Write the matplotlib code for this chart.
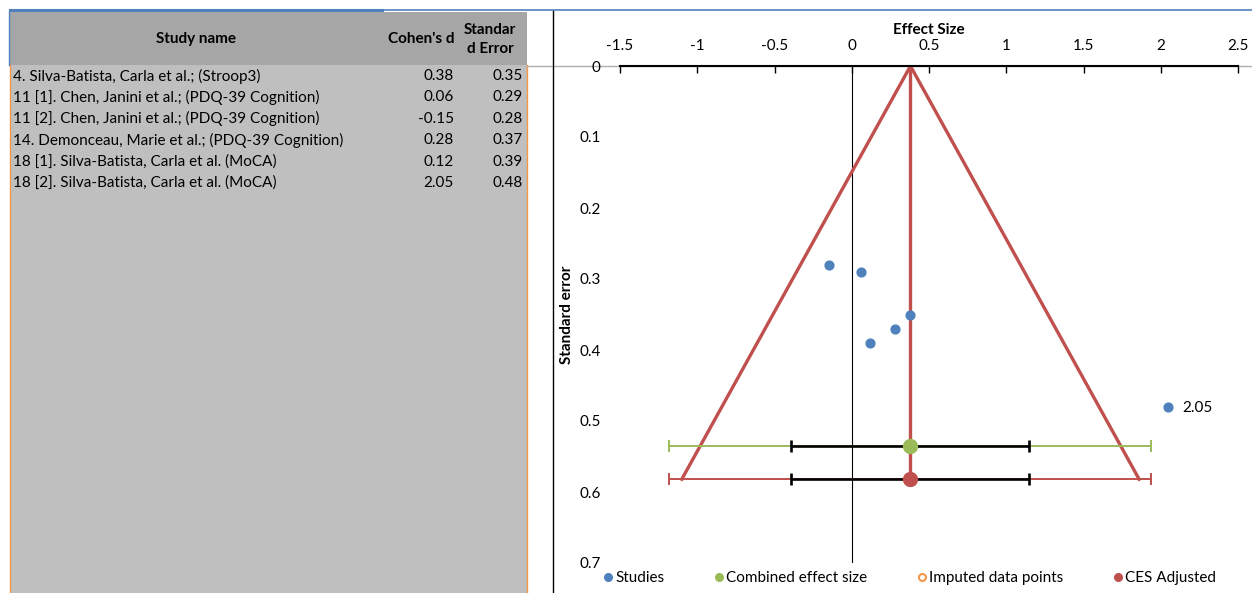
import matplotlib
matplotlib.use("Agg")
import matplotlib.pyplot as plt
from matplotlib.patches import Rectangle
from matplotlib.lines import Line2D

plt.rcParams["font.family"] = ["Lato", "DejaVu Sans"]

# study table
study_names = [
    "4. Silva-Batista, Carla et al.; (Stroop3)",
    "11 [1]. Chen, Janini et al.; (PDQ-39 Cognition)",
    "11 [2]. Chen, Janini et al.; (PDQ-39 Cognition)",
    "14. Demonceau, Marie et al.; (PDQ-39 Cognition)",
    "18 [1]. Silva-Batista, Carla et al. (MoCA)",
    "18 [2]. Silva-Batista, Carla et al. (MoCA)",
]
cohens_d = [0.38, 0.06, -0.15, 0.28, 0.12, 2.05]
std_err = [0.35, 0.29, 0.28, 0.37, 0.39, 0.48]

# combined effect / funnel
ces = 0.38
ces_y = 0.535
ces_adj_y = 0.582
ci_low, ci_high = -0.39, 1.15
pi_low, pi_high = -1.18, 1.94
funnel_low, funnel_high = -1.10, 1.86

x_ticks = [-1.5, -1, -0.5, 0, 0.5, 1, 1.5, 2, 2.5]
y_ticks = [0, 0.1, 0.2, 0.3, 0.4, 0.5, 0.6, 0.7]

BLUE = "#4f81bd"
GREEN = "#9bbb59"
RED = "#c0504d"
ORANGE = "#f79646"
FS = 11

W, H = 1252, 593
fig = plt.figure(figsize=(W / 100, H / 100), dpi=100)

# background layer in pixel coords (spreadsheet table)
bg = fig.add_axes([0, 0, 1, 1])
bg.set_xlim(0, W); bg.set_ylim(H, 0); bg.axis("off")
bg.add_patch(Rectangle((10, 12), 517, 53, color="#a6a6a6", lw=0))
bg.add_patch(Rectangle((10, 65), 517, H - 65, color="#bfbfbf", lw=0))
bg.plot([10, 10], [65, H], color=ORANGE, lw=1)
bg.plot([527, 527], [65, H], color=ORANGE, lw=1)
bg.plot([9, 9], [12, 65], color=BLUE, lw=1)
bg.plot([10, 382], [10, 10], color=BLUE, lw=2.2)
bg.plot([382, W], [10, 10], color=BLUE, lw=1.4, alpha=0.85)
bg.plot([527, W], [65.5, 65.5], color="#b0b0b0", lw=1)
bg.plot([553, 553], [11, H], color="black", lw=1)

bg.text(196, 39, "Study name", ha="center", va="center", fontsize=FS, fontweight="bold")
bg.text(454, 39, "Cohen's d", ha="right", va="center", fontsize=FS, fontweight="bold")
bg.text(490, 30, "Standar", ha="center", va="center", fontsize=FS, fontweight="bold")
bg.text(490, 49, "d Error", ha="center", va="center", fontsize=FS, fontweight="bold")
for i, (name, d, se) in enumerate(zip(study_names, cohens_d, std_err)):
    y = 76 + i * 21.4
    bg.text(13, y, name, ha="left", va="center", fontsize=FS)
    bg.text(454, y, f"{d:.2f}", ha="right", va="center", fontsize=FS)
    bg.text(523, y, f"{se:.2f}", ha="right", va="center", fontsize=FS)

# funnel plot
ax = fig.add_axes([620 / W, 1 - 563 / H, 618 / W, 497 / H])
ax.patch.set_alpha(0)
ax.set_xlim(-1.5, 2.5)
ax.set_ylim(0.7, 0)
for s in ["left", "right", "bottom"]:
    ax.spines[s].set_visible(False)
ax.spines["top"].set_linewidth(1.5)
ax.xaxis.tick_top()
ax.xaxis.set_label_position("top")
ax.set_xticks(x_ticks)
ax.set_xticklabels([f"{v:g}" for v in x_ticks])
ax.tick_params(axis="x", direction="in", length=5, width=1, labelsize=FS, pad=9)
ax.set_yticks(y_ticks)
ax.set_yticklabels([f"{v:g}" for v in y_ticks])
ax.tick_params(axis="y", length=0, labelsize=FS, pad=14)
ax.set_xlabel("Effect Size", fontsize=FS, fontweight="bold", labelpad=4)
ax.set_ylabel("Standard error", fontsize=FS, fontweight="bold")
ax.yaxis.set_label_coords(-0.074, 0.5)

ax.plot([0, 0], [0, 0.7], color="black", lw=0.8)
ax.plot([funnel_low, ces, funnel_high], [ces_adj_y, 0, ces_adj_y], color=RED, lw=2.4)
ax.plot([ces, ces], [0, ces_adj_y], color=RED, lw=2.4)

ax.errorbar([ces], [ces_y], xerr=[[ces - pi_low], [pi_high - ces]], fmt="none",
            ecolor=GREEN, elinewidth=1.4, capsize=4, capthick=1.4)
ax.errorbar([ces], [ces_adj_y], xerr=[[ces - pi_low], [pi_high - ces]], fmt="none",
            ecolor=RED, elinewidth=1.4, capsize=4, capthick=1.4)
for yy in (ces_y, ces_adj_y):
    ax.errorbar([ces], [yy], xerr=[[ces - ci_low], [ci_high - ces]], fmt="none",
                ecolor="black", elinewidth=1.9, capsize=4, capthick=1.9)

ax.scatter(cohens_d, std_err, s=40, color=BLUE, zorder=5)
ax.scatter([ces], [ces_y], s=100, color=GREEN, zorder=5)
ax.scatter([ces], [ces_adj_y], s=100, color=RED, zorder=5)
ax.annotate(f"{cohens_d[-1]:.2f}", (cohens_d[-1], std_err[-1]), xytext=(10, -1),
            textcoords="offset points", va="center", fontsize=FS)

handles = [
    Line2D([], [], ls="none", marker="o", ms=5.5, color=BLUE, label="Studies"),
    Line2D([], [], ls="none", marker="o", ms=5.5, color=GREEN, label="Combined effect size"),
    Line2D([], [], ls="none", marker="o", ms=5, mfc="none", mec=ORANGE, mew=1.5,
           label="Imputed data points"),
    Line2D([], [], ls="none", marker="o", ms=5.5, color=RED, label="CES Adjusted"),
]
fig.legend(handles=handles, loc="center", bbox_to_anchor=(910 / W, 1 - 578 / H), ncol=4,
           frameon=False, fontsize=FS, handlelength=0.5, handletextpad=0.25,
           columnspacing=3.3, borderpad=0)

fig.savefig("out.png", dpi=100)
